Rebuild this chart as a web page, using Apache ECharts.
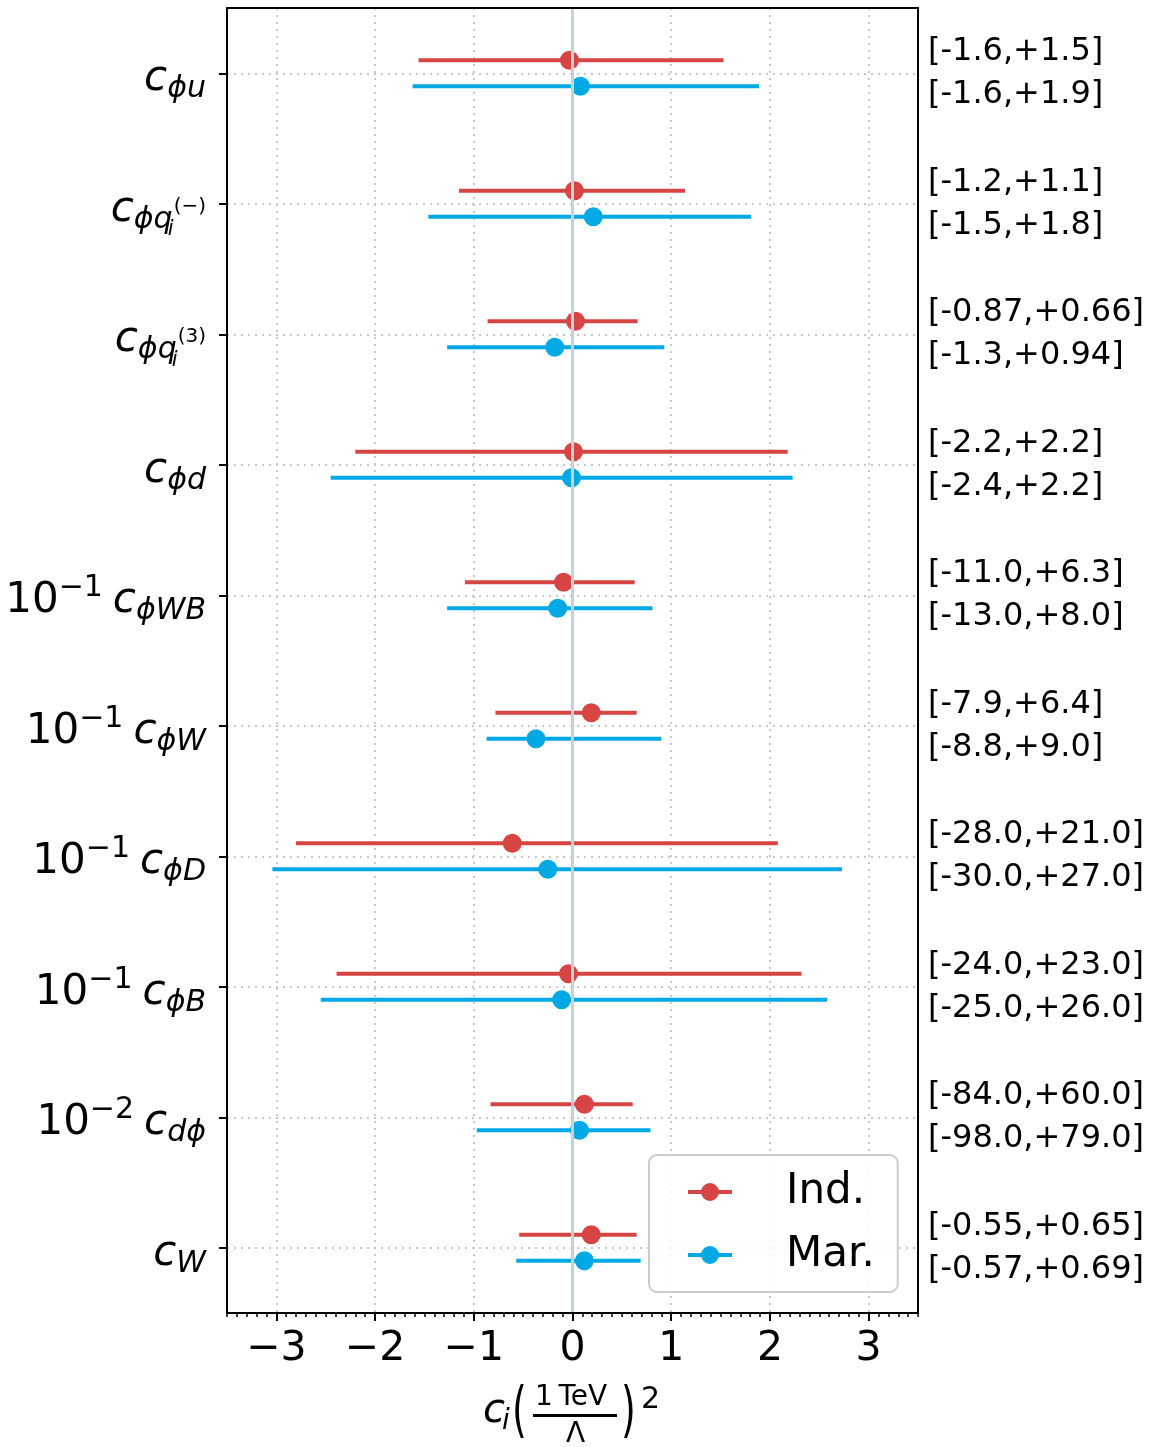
<!DOCTYPE html>
<html><head><meta charset="utf-8">
<script src="https://cdn.jsdelivr.net/npm/echarts@6/dist/echarts.min.js"></script>
<style>html,body{margin:0;padding:0;background:#fff}#c{width:1150px;height:1447px}</style>
</head><body><div id="c"></div>
<script>
// ---- data ----
const coefficients = ['cphiu', 'cphiq1', 'cphiq3', 'cphid', 'cphiWB', 'cphiW', 'cphiD', 'cphiB', 'cdphi', 'cW'];
const coefficientLabels = [
  '{c|c}{s|ϕu}',
  '{c|c}{s|ϕq}{ss|i}{sp|(−)}',
  '{c|c}{s|ϕq}{ss|i}{sp|(3)}',
  '{c|c}{s|ϕd}',
  '{n|10}{e|−1}{c2|c}{s|ϕWB}',
  '{n|10}{e|−1}{c2|c}{s|ϕW}',
  '{n|10}{e|−1}{c2|c}{s|ϕD}',
  '{n|10}{e|−1}{c2|c}{s|ϕB}',
  '{n|10}{e|−2}{c2|c}{s|dϕ}',
  '{c|c}{s|W}'
];
const indCentral = [-0.03, 0.02, 0.03, 0.01, -0.09, 0.19, -0.61, -0.04, 0.12, 0.19];
const indLow     = [-1.56, -1.15, -0.86, -2.20, -1.09, -0.78, -2.80, -2.39, -0.83, -0.54];
const indHigh    = [1.53, 1.14, 0.66, 2.18, 0.63, 0.65, 2.08, 2.32, 0.61, 0.65];
const marCentral = [0.08, 0.21, -0.18, -0.01, -0.15, -0.37, -0.25, -0.11, 0.07, 0.12];
const marLow     = [-1.62, -1.46, -1.27, -2.45, -1.27, -0.87, -3.04, -2.55, -0.97, -0.57];
const marHigh    = [1.89, 1.81, 0.93, 2.23, 0.81, 0.90, 2.73, 2.58, 0.79, 0.69];
const indIntervalText = ['[-1.6,+1.5]', '[-1.2,+1.1]', '[-0.87,+0.66]', '[-2.2,+2.2]', '[-11.0,+6.3]', '[-7.9,+6.4]', '[-28.0,+21.0]', '[-24.0,+23.0]', '[-84.0,+60.0]', '[-0.55,+0.65]'];
const marIntervalText = ['[-1.6,+1.9]', '[-1.5,+1.8]', '[-1.3,+0.94]', '[-2.4,+2.2]', '[-13.0,+8.0]', '[-8.8,+9.0]', '[-30.0,+27.0]', '[-25.0,+26.0]', '[-98.0,+79.0]', '[-0.57,+0.69]'];
const xMin = -3.5, xMax = 3.5;

// ---- chart ----
const FONT = 'DejaVu Sans';
const RED = '#d64543';
const BLUE = '#00a8e4';
const chart = echarts.init(document.getElementById('c'));

function renderBar(dy) {
  return function (params, api) {
    const yi = api.value(3);
    const pLo = api.coord([api.value(0), yi]);
    const pHi = api.coord([api.value(1), yi]);
    const pC = api.coord([api.value(2), yi]);
    const color = api.visual('color');
    return {
      type: 'group',
      children: [
        { type: 'line', shape: { x1: pLo[0], y1: pLo[1] + dy, x2: pHi[0], y2: pHi[1] + dy }, style: { stroke: color, lineWidth: 4 } },
        { type: 'circle', shape: { cx: pC[0], cy: pC[1] + dy, r: 9.5 }, style: { fill: color } }
      ]
    };
  };
}
const indData = indLow.map((lo, i) => [lo, indHigh[i], indCentral[i], i]);
const marData = marLow.map((lo, i) => [lo, marHigh[i], marCentral[i], i]);

const legendIcon = 'path://M0,7 L44,7 L44,11 L0,11 Z M22,0 A9,9 0 1,1 22,18 A9,9 0 1,1 22,0 Z';

const option = {
  animation: false,
  backgroundColor: '#fff',
  grid: { left: 227, right: 232, top: 8, bottom: 134, show: true, borderColor: '#000', borderWidth: 2, backgroundColor: 'transparent', z: 10 },
  xAxis: [
    {
      type: 'value', min: xMin, max: xMax, splitNumber: 7, position: 'bottom',
      axisLine: { show: true, onZero: false, lineStyle: { color: '#000', width: 2 } },
      axisTick: { show: true, length: 8, lineStyle: { color: '#000', width: 2 } },
      axisLabel: {
        showMinLabel: false, showMaxLabel: false, margin: 16,
        fontFamily: FONT, fontSize: 41, color: '#000',
        formatter: v => (v < 0 ? '−' + Math.abs(v) : String(v))
      },
      splitLine: { show: true, lineStyle: { color: '#c2cbd1', width: 2, type: [2, 5] } }
    },
    {
      type: 'value', min: xMin, max: xMax, interval: 0.1, position: 'bottom',
      axisLine: { show: false, onZero: false },
      axisTick: { show: true, length: 4, lineStyle: { color: '#000', width: 1.5 } },
      axisLabel: { show: false }, splitLine: { show: false }
    }
  ],
  yAxis: [
    {
      type: 'category', data: coefficients, inverse: true, position: 'left',
      axisLine: { show: true, onZero: false, lineStyle: { color: '#000', width: 2 } },
      axisTick: { show: true, alignWithLabel: true, length: 8, lineStyle: { color: '#000', width: 2 } },
      splitLine: { show: true, alignWithLabel: true, interval: 0, lineStyle: { color: '#c2cbd1', width: 2, type: [2, 5] } },
      axisLabel: {
        interval: 0, margin: 21, padding: [12, 0, 0, 0],
        formatter: (v, i) => coefficientLabels[i],
        rich: {
          c: { fontFamily: FONT, fontStyle: 'italic', fontSize: 42, lineHeight: 50, color: '#000' },
          c2: { fontFamily: FONT, fontStyle: 'italic', fontSize: 42, lineHeight: 50, color: '#000', padding: [0, 0, 0, 10] },
          n: { fontFamily: FONT, fontSize: 42, lineHeight: 50, color: '#000' },
          s: { fontFamily: FONT, fontStyle: 'italic', fontSize: 30, lineHeight: 30, padding: [20, 0, 0, 0], color: '#000' },
          e: { fontFamily: FONT, fontSize: 30, lineHeight: 30, padding: [0, 0, 26, 0], color: '#000' },
          ss: { fontFamily: FONT, fontStyle: 'italic', fontSize: 21, lineHeight: 21, padding: [40, 0, 0, 0], width: 1, color: '#000' },
          sp: { fontFamily: FONT, fontSize: 20, lineHeight: 20, padding: [0, 0, 6, 0], color: '#000' }
        }
      }
    },
    {
      type: 'category', data: coefficients, inverse: true, position: 'right',
      axisLine: { show: false, onZero: false }, axisTick: { show: false }, splitLine: { show: false },
      axisLabel: {
        interval: 0, margin: 10, fontFamily: FONT, fontSize: 32, lineHeight: 43, color: '#000', align: 'left',
        formatter: (v, i) => indIntervalText[i] + '\n' + marIntervalText[i]
      }
    }
  ],
  legend: {
    left: 649, top: 1155, orient: 'vertical',
    padding: [15, 23, 15, 39], itemGap: 19, itemWidth: 44, itemHeight: 18,
    backgroundColor: 'rgba(255,255,255,0.85)', borderColor: '#cccccc', borderWidth: 2, borderRadius: 8,
    icon: legendIcon,
    textStyle: { fontFamily: FONT, fontSize: 42, lineHeight: 44, color: '#000', padding: [0, 0, 0, 49] },
    data: ['Ind.', 'Mar.']
  },
  series: [
    {
      type: 'line', name: 'zero', data: [], xAxisIndex: 0, yAxisIndex: 0, z: 1, silent: true,
      markLine: {
        silent: true, symbol: ['none', 'none'], label: { show: false },
        lineStyle: { color: '#c6d1d8', width: 3, type: 'solid' },
        data: [{ xAxis: 0 }]
      }
    },
    {
      type: 'custom', name: 'Ind.', xAxisIndex: 0, yAxisIndex: 0, z: 3,
      itemStyle: { color: RED }, renderItem: renderBar(-13),
      encode: { x: [0, 1, 2], y: 3 }, data: indData
    },
    {
      type: 'custom', name: 'Mar.', xAxisIndex: 0, yAxisIndex: 0, z: 3,
      itemStyle: { color: BLUE }, renderItem: renderBar(13),
      encode: { x: [0, 1, 2], y: 3 }, data: marData
    }
  ],
  graphic: [
    { type: 'text', left: 483, top: 1392, style: { text: 'c', font: 'italic 40px "DejaVu Sans"', fill: '#000' } },
    { type: 'text', left: 502, top: 1408, style: { text: 'i', font: 'italic 28px "DejaVu Sans"', fill: '#000' } },
    { type: 'text', x: 512, y: 1384, scaleY: 1.6, style: { text: '(', font: '38px "DejaVu Sans"', fill: '#000' } },
    { type: 'text', left: 535, top: 1384, style: { text: '1\u2009TeV', font: '28px "DejaVu Sans"', fill: '#000' } },
    { type: 'rect', shape: { x: 533, y: 1414, width: 84, height: 3 }, style: { fill: '#000' } },
    { type: 'text', left: 566, top: 1421, style: { text: 'Λ', font: '28px "DejaVu Sans"', fill: '#000' } },
    { type: 'text', x: 621, y: 1384, scaleY: 1.6, style: { text: ')', font: '38px "DejaVu Sans"', fill: '#000' } },
    { type: 'text', left: 641, top: 1385, style: { text: '2', font: '30px "DejaVu Sans"', fill: '#000' } }
  ]
};
chart.setOption(option);
</script>
</body></html>
